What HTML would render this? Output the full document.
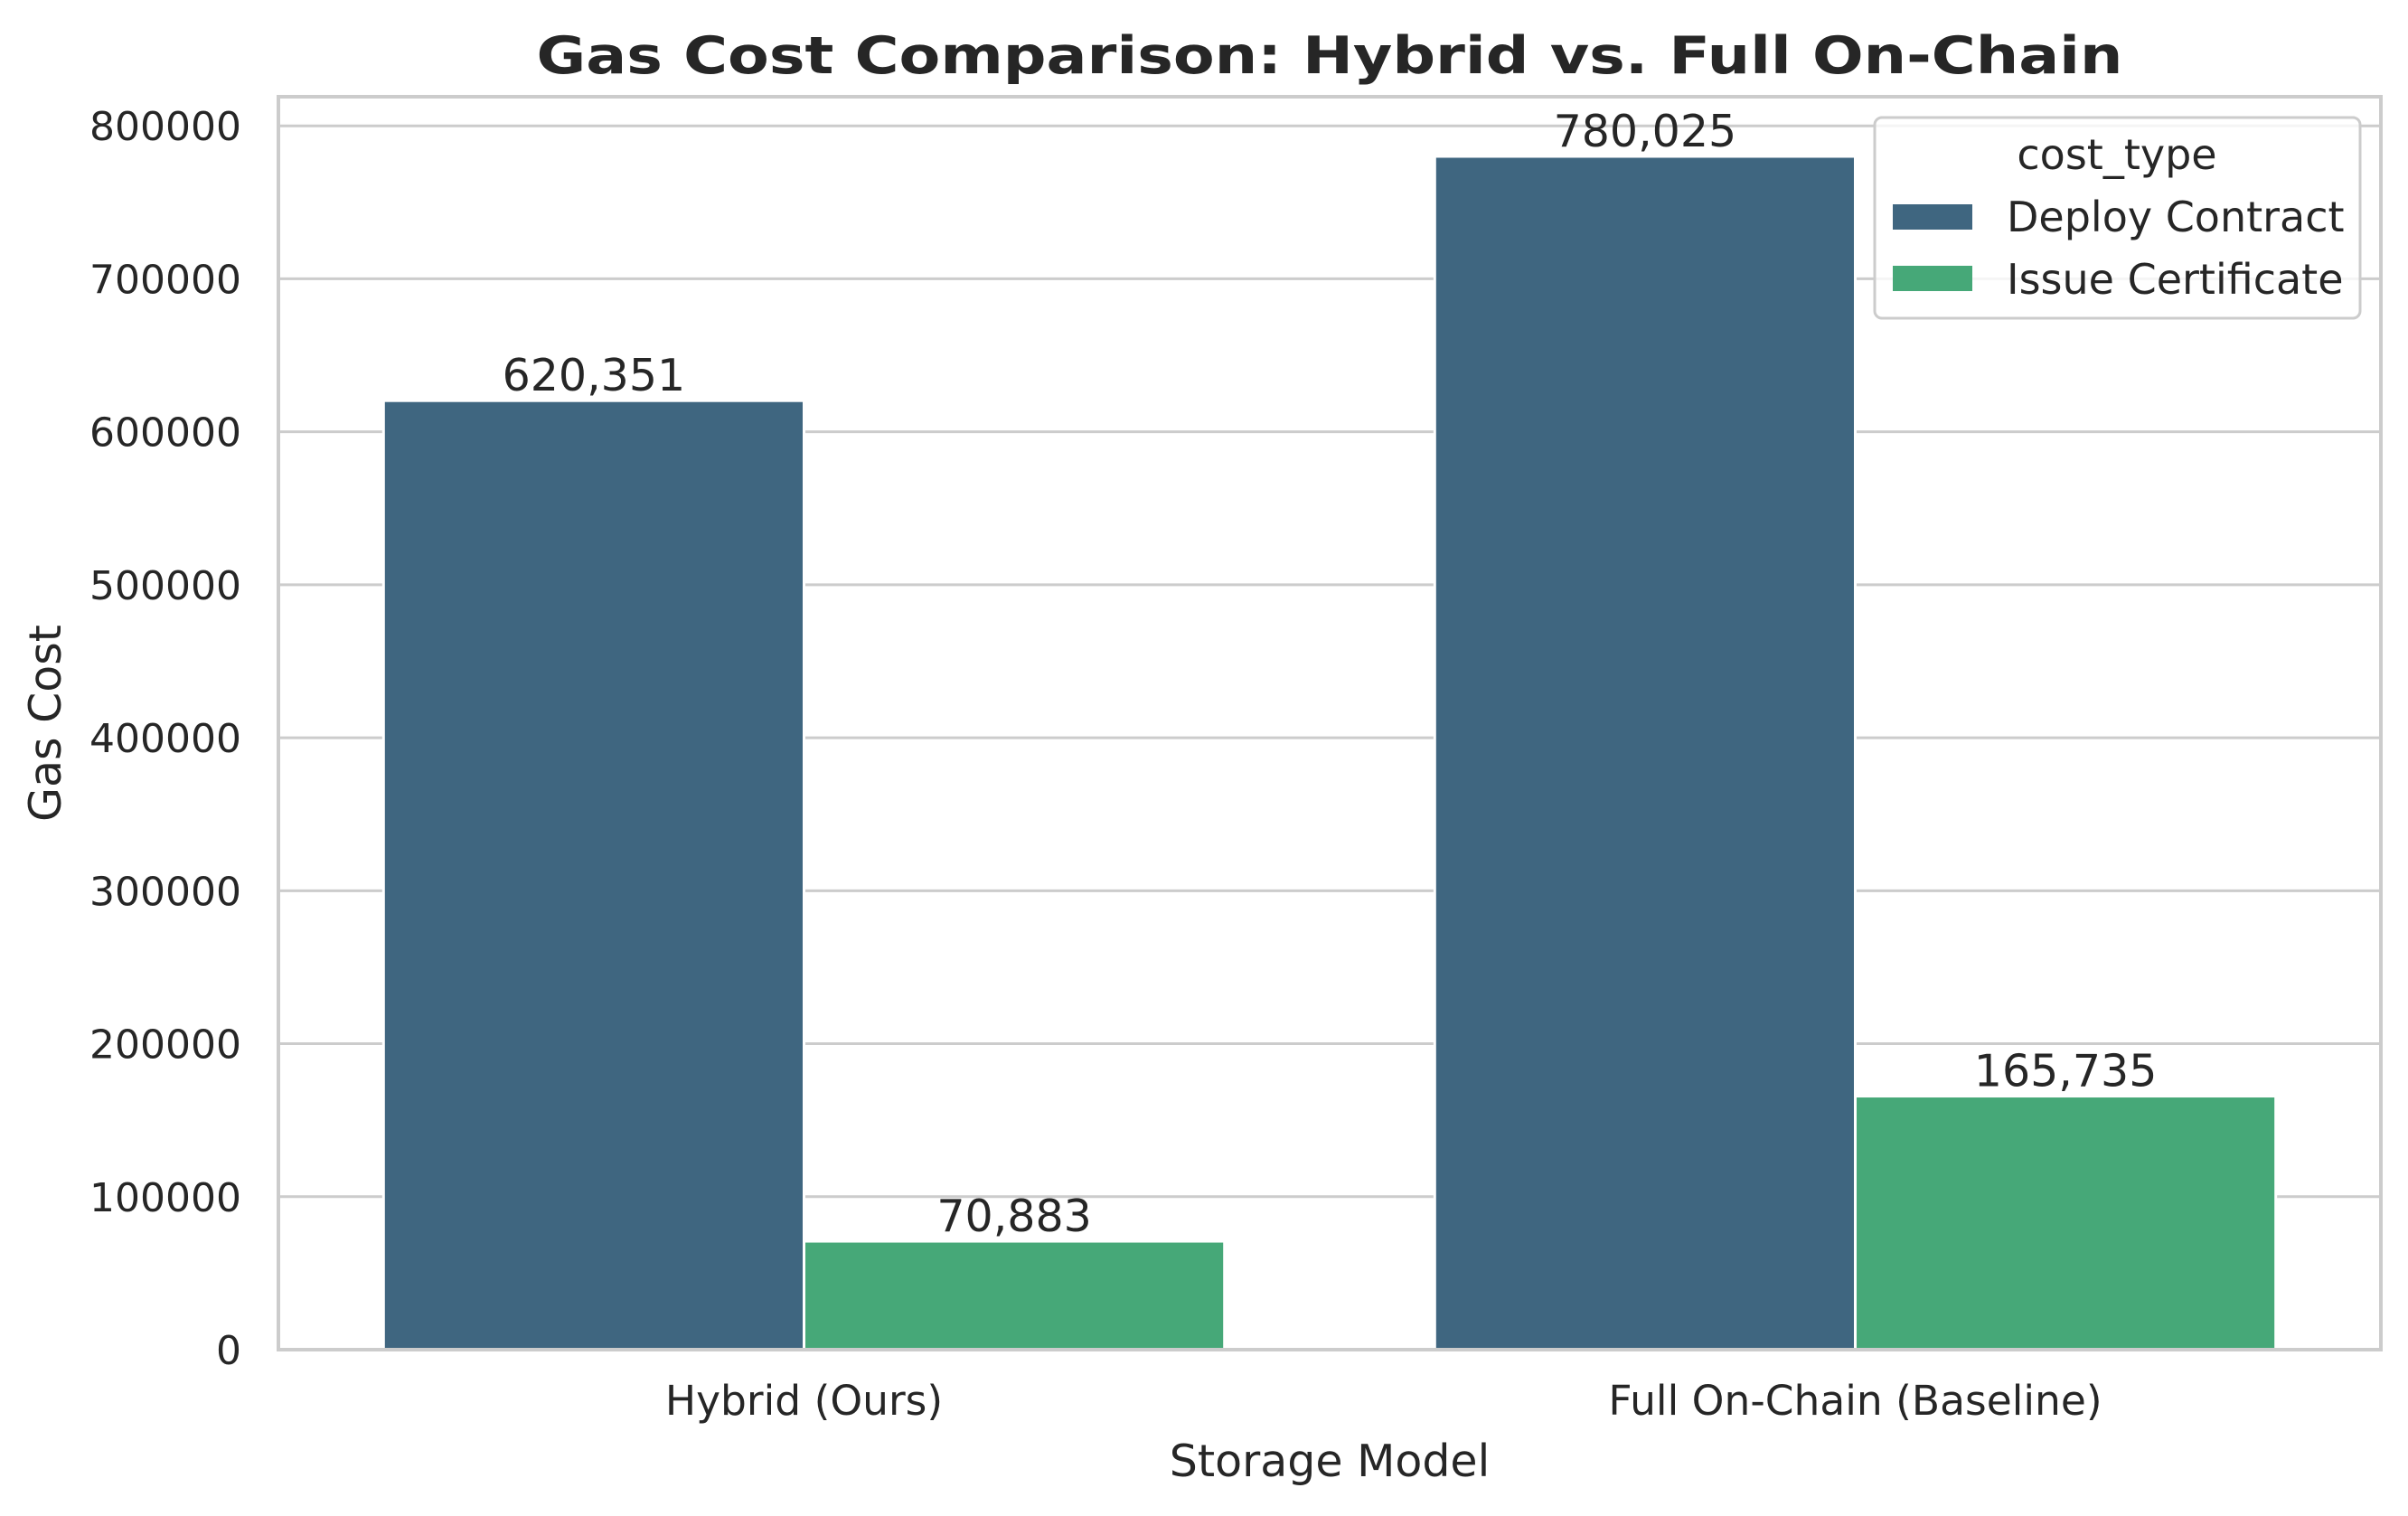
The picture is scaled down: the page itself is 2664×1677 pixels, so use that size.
<!DOCTYPE html>
<html><head><meta charset="utf-8"><style>
html,body{margin:0;padding:0;background:#fff;}
svg text{font-family:"DejaVu Sans","Liberation Sans",sans-serif;fill:#262626;}
</style></head><body>
<svg id="chart" width="2664" height="1672" viewBox="0 0 2664 1672" xmlns="http://www.w3.org/2000/svg">
<rect width="2664" height="1672" fill="#fff"/>
<text x="1471" y="81" text-anchor="middle" font-size="57" font-weight="bold" textLength="1755" lengthAdjust="spacingAndGlyphs">Gas Cost Comparison: Hybrid vs. Full On-Chain</text>
<g id="grid"></g>
<g id="bars"></g>
<g id="labels"></g>
<rect x="308" y="107" width="2326" height="1386" fill="none" stroke="#cccccc" stroke-width="4"/>
<g id="yticks"></g>
<g id="xticks"></g>
<text transform="translate(67,800) rotate(-90)" text-anchor="middle" font-size="49">Gas Cost</text>
<text x="1471" y="1633" text-anchor="middle" font-size="49">Storage Model</text>
<g>
<rect x="2074" y="130" width="537" height="222" rx="8" fill="#fff" fill-opacity="0.8" stroke="#cccccc" stroke-width="3"/>
<text x="2342" y="187" text-anchor="middle" font-size="46">cost_type</text>
<rect x="2094" y="226" width="88" height="28" fill="#3f6680"/>
<text x="2220" y="256" font-size="46">Deploy Contract</text>
<rect x="2094" y="294" width="88" height="28" fill="#46a878"/>
<text x="2220" y="325" font-size="46">Issue Certificate</text>
</g>
</svg>
<script>
const categories = ["Hybrid (Ours)", "Full On-Chain (Baseline)"];
const deployValues = [620351, 780025];
const issueValues = [70883, 165735];
const yTicks = [0, 100000, 200000, 300000, 400000, 500000, 600000, 700000, 800000];
const yMax = 819026;

const NS = "http://www.w3.org/2000/svg";
const L = 308, R = 2634, T = 107, B = 1493;
const catW = (R - L) / categories.length;
const barW = catW * 0.4;
function y(v){ return B - v / yMax * (B - T); }
function xc(i){ return L + catW * (i + 0.5); }
function mk(tag, attrs, parent){
  const e = document.createElementNS(NS, tag);
  for (const k in attrs) e.setAttribute(k, attrs[k]);
  parent.appendChild(e);
  return e;
}
const grid = document.getElementById('grid');
const yt = document.getElementById('yticks');
yTicks.forEach(function(t){
  const ln = mk('line', {x1: L, x2: R, y1: y(t), y2: y(t), stroke: '#cccccc', 'stroke-width': 3}, grid);
  
  
  const tx = mk('text', {x: 267, y: y(t) + 16, 'text-anchor': 'end', 'font-size': 44}, yt);
  tx.textContent = String(t);
  
  
});
const bars = document.getElementById('bars');
const labels = document.getElementById('labels');
const xt = document.getElementById('xticks');
const series = [[deployValues, '#3f6680', 'deploy'], [issueValues, '#46a878', 'issue']];
categories.forEach(function(c, i){
  series.forEach(function(s, j){
    const v = s[0][i];
    const x0 = xc(i) - barW + j * barW;
    const b = mk('rect', {x: x0, y: y(v), width: barW, height: B - y(v), fill: s[1], stroke: '#fff', 'stroke-width': 3}, bars);
    
    
    const lb = mk('text', {x: x0 + barW / 2, y: y(v) - 11, 'text-anchor': 'middle', 'font-size': 49}, labels);
    lb.textContent = v.toLocaleString('en-US');
    
    
  });
  const tx = mk('text', {x: xc(i), y: 1565, 'text-anchor': 'middle', 'font-size': 45.5}, xt);
  tx.textContent = c;
  
  
});
</script>
</body></html>
